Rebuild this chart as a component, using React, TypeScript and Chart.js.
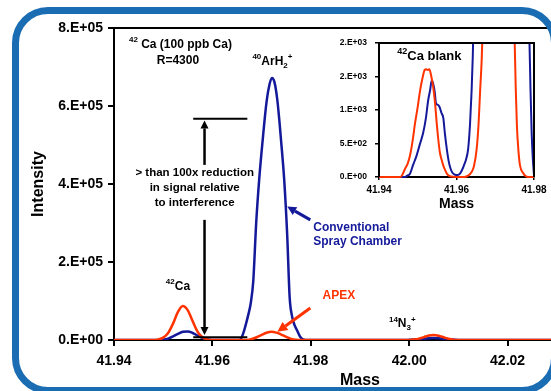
import React, { useEffect, useRef } from 'react';
import { Chart, registerables } from 'chart.js';

Chart.register(...registerables);

const FONT = '"Liberation Sans", Arial, Helvetica, sans-serif';
const RED = '#ff3300';
const BLUE = '#14199a';
const BORDER_BLUE = '#1b6db3';

// ---------- Main chart data: 42Ca (100 ppb Ca), R=4300 ----------
const apexMass = [
  41.94, 41.948, 41.949, 41.95, 41.951, 41.952, 41.953, 41.954, 41.955, 41.956, 41.957, 41.958, 41.959, 41.96,
  41.967, 41.968, 41.969, 41.97, 41.971, 41.972, 41.973, 41.974, 41.975, 41.976, 41.977, 41.978,
  42.0, 42.001, 42.002, 42.003, 42.004, 42.005, 42.006, 42.007, 42.008, 42.009, 42.01, 42.04,
];
const apexIntensity = [
  0, 0, 1500, 6000, 18000, 42000, 72000, 87000, 76000, 48000, 21000, 7000, 1500, 0,
  0, 2500, 7000, 13000, 18500, 21000, 19000, 14000, 8000, 3000, 500, 0,
  0, 1000, 3500, 7500, 11500, 13000, 11000, 7000, 3000, 800, 0, 0,
];

const conventionalMass = [
  41.94, 41.949, 41.95, 41.951, 41.952, 41.953, 41.954, 41.955, 41.956, 41.957, 41.958, 41.959, 41.96, 41.962,
  41.9655, 41.966, 41.9664, 41.9668, 41.9673, 41.9678, 41.9683, 41.9689, 41.9695, 41.9702, 41.971, 41.9716,
  41.9721, 41.9726, 41.9732, 41.974, 41.9746, 41.9752, 41.9757, 41.9762, 41.9767, 41.9772, 41.9778, 41.9784,
  41.979, 41.999, 42.002, 42.004, 42.005, 42.006, 42.008, 42.01, 42.04,
];
const conventionalIntensity = [
  0, 0, 1000, 3500, 9000, 16000, 21000, 22000, 18000, 11000, 5000, 1500, 300, 0,
  0, 8000, 22000, 40000, 65000, 95000, 150000, 300000, 410000, 510000, 610000, 655000,
  672000, 662000, 615000, 505000, 410000, 270000, 110000, 60000, 38000, 25000, 9000, 1500,
  0, 0, 2000, 4500, 5000, 4500, 2000, 0, 0,
];

const mainMassMin = 41.94;
const mainMassMax = 42.04;
const mainMassStep = 0.02;
const mainIntensityMax = 800000;
const mainIntensityStep = 200000;

// ---------- Inset data: 42Ca blank ----------
const blankApexMass = [
  41.94, 41.9455, 41.946, 41.9467, 41.9474, 41.948, 41.9487, 41.9493, 41.95, 41.9506, 41.9512, 41.9518,
  41.9522, 41.9526, 41.953, 41.9535, 41.954, 41.9545, 41.9549, 41.9553, 41.9557, 41.9562, 41.9566, 41.9571,
  41.9575, 41.9583, 41.96, 41.962, 41.963, 41.9639, 41.9645, 41.9652, 41.9657, 41.9661, 41.9665, 41.9668,
  41.9672, 41.9745, 41.9749, 41.9753, 41.9756, 41.976, 41.9764, 41.9772, 41.9778, 41.9785, 41.98,
];
const blankApexIntensity = [
  0, 0, 30, 120, 200, 320, 550, 805, 1050, 1290, 1470, 1600,
  1610, 1600, 1610, 1500, 1340, 1080, 800, 560, 370, 250, 170, 100,
  50, 10, 0, 0, 20, 75, 160, 415, 800, 1290, 1750, 2300,
  3000, 3000, 2300, 1300, 750, 380, 170, 60, 15, 0, 0,
];

const blankConvMass = [
  41.94, 41.9467, 41.9473, 41.948, 41.9488, 41.9497, 41.9505, 41.9514, 41.9521, 41.9527, 41.9532, 41.9536,
  41.954, 41.9544, 41.9547, 41.9551, 41.9556, 41.9561, 41.9566, 41.957, 41.9575, 41.958, 41.9585, 41.959,
  41.9596, 41.9603, 41.9609, 41.9614, 41.9619, 41.9625, 41.963, 41.9635, 41.9639, 41.9642, 41.9646,
  41.9784, 41.9788, 41.9791, 41.9794, 41.9797, 41.98,
];
const blankConvIntensity = [
  0, 0, 20, 50, 180, 320, 480, 660, 880, 1150, 1300, 1440,
  1390, 1260, 1100, 1080, 1050, 960, 880, 650, 415, 230, 120, 60,
  34, 30, 50, 100, 170, 270, 415, 800, 1290, 1800, 2800,
  2800, 2100, 1300, 650, 270, 30,
];

const insetMassMin = 41.94;
const insetMassMax = 41.98;
const insetMassStep = 0.02;
const insetIntensityMax = 2000;
const insetIntensityStep = 500;

// Excel-like "0.E+00" format
function fmtE(v: number): string {
  const [m, e] = Number(v).toExponential(0).split('e');
  const ei = parseInt(e, 10);
  return `${m}.E${ei < 0 ? '-' : '+'}${String(Math.abs(ei)).padStart(2, '0')}`;
}

type Part = [string, number]; // 0 normal, 1 superscript, 2 subscript

function richText(ctx: CanvasRenderingContext2D, parts: Part[], x: number, y: number, size: number, color: string, align: string) {
  ctx.save();
  ctx.fillStyle = color;
  ctx.textBaseline = 'middle';
  ctx.textAlign = 'left';
  const small = Math.round(size * 0.68);
  const fN = `bold ${size}px ${FONT}`;
  const fS = `bold ${small}px ${FONT}`;
  let w = 0;
  for (const [t, k] of parts) {
    ctx.font = k ? fS : fN;
    w += ctx.measureText(t).width;
  }
  let cx = align === 'center' ? x - w / 2 : align === 'right' ? x - w : x;
  for (const [t, k] of parts) {
    ctx.font = k ? fS : fN;
    const dy = k === 1 ? -size * 0.38 : k === 2 ? size * 0.32 : 0;
    ctx.fillText(t, cx, y + dy);
    cx += ctx.measureText(t).width;
  }
  ctx.restore();
}

function arrow(ctx: CanvasRenderingContext2D, x1: number, y1: number, x2: number, y2: number, color: string, lw: number, hl: number, hw: number) {
  const a = Math.atan2(y2 - y1, x2 - x1);
  const bx = x2 - hl * Math.cos(a);
  const by = y2 - hl * Math.sin(a);
  ctx.save();
  ctx.strokeStyle = color;
  ctx.fillStyle = color;
  ctx.lineWidth = lw;
  ctx.beginPath();
  ctx.moveTo(x1, y1);
  ctx.lineTo(bx, by);
  ctx.stroke();
  ctx.beginPath();
  ctx.moveTo(x2, y2);
  ctx.lineTo(bx + (hw / 2) * Math.sin(a), by - (hw / 2) * Math.cos(a));
  ctx.lineTo(bx - (hw / 2) * Math.sin(a), by + (hw / 2) * Math.cos(a));
  ctx.closePath();
  ctx.fill();
  ctx.restore();
}

function line(ctx: CanvasRenderingContext2D, x1: number, y1: number, x2: number, y2: number, color: string, lw: number) {
  ctx.save();
  ctx.strokeStyle = color;
  ctx.lineWidth = lw;
  ctx.beginPath();
  ctx.moveTo(x1, y1);
  ctx.lineTo(x2, y2);
  ctx.stroke();
  ctx.restore();
}

const mainAnnotations = {
  id: 'mainAnnotations',
  afterDatasetsDraw(chart: any) {
    const ctx: CanvasRenderingContext2D = chart.ctx;
    const X = (m: number) => chart.scales.x.getPixelForValue(m);
    const Y = (v: number) => chart.scales.y.getPixelForValue(v);
    const { left, right, top } = chart.chartArea;
    // top frame line
    line(ctx, left - 1, top, right, top, '#000', 2);

    // header text
    richText(ctx, [['42', 1], [' Ca (100 ppb Ca)', 0]], X(41.9535), Y(757000), 12, '#000', 'center');
    richText(ctx, [['R=4300', 0]], X(41.953), Y(716000), 12, '#000', 'center');
    richText(ctx, [['40', 1], ['ArH', 0], ['2', 2], ['+', 1]], X(41.9722), Y(714000), 12, '#000', 'center');
    richText(ctx, [['42', 1], ['Ca', 0]], X(41.953), Y(137000), 12, '#000', 'center');
    richText(ctx, [['14', 1], ['N', 0], ['3', 2], ['+', 1]], X(41.9986), Y(41000), 12, '#000', 'center');

    // reduction double-arrow
    const xa = X(41.9584);
    line(ctx, X(41.9561), Y(567000), X(41.9671), Y(567000), '#000', 2);
    line(ctx, X(41.9561), Y(6900), X(41.9671), Y(6900), '#000', 2);
    arrow(ctx, xa, Y(449000), xa, Y(563000), '#000', 2.5, 8, 8);
    arrow(ctx, xa, Y(308000), xa, Y(12800), '#000', 2.5, 8, 8);
    richText(ctx, [['> than 100x reduction', 0]], X(41.9564), Y(428000), 11.5, '#000', 'center');
    richText(ctx, [['in signal relative', 0]], X(41.9564), Y(389000), 11.5, '#000', 'center');
    richText(ctx, [['to interference', 0]], X(41.9564), Y(353000), 11.5, '#000', 'center');

    // conventional label & arrow
    arrow(ctx, X(41.9799), Y(308000), X(41.9752), Y(342000), BLUE, 3, 9, 9);
    richText(ctx, [['Conventional', 0]], X(41.9805), Y(287000), 12, BLUE, 'left');
    richText(ctx, [['Spray Chamber', 0]], X(41.9805), Y(252000), 12, BLUE, 'left');

    // APEX label & arrow
    arrow(ctx, X(41.9799), Y(82000), X(41.9732), Y(21000), RED, 3, 10, 10);
    richText(ctx, [['APEX', 0]], X(41.9857), Y(113000), 12, RED, 'center');
  },
};

const insetAnnotations = {
  id: 'insetAnnotations',
  afterDatasetsDraw(chart: any) {
    const ctx: CanvasRenderingContext2D = chart.ctx;
    const X = (m: number) => chart.scales.x.getPixelForValue(m);
    const Y = (v: number) => chart.scales.y.getPixelForValue(v);
    const { left, right, top, bottom } = chart.chartArea;
    ctx.save();
    ctx.strokeStyle = '#000';
    ctx.lineWidth = 2;
    ctx.beginPath();
    ctx.moveTo(left, bottom);
    ctx.lineTo(left, top);
    ctx.lineTo(right, top);
    ctx.lineTo(right, bottom);
    ctx.stroke();
    ctx.restore();
    richText(ctx, [['42', 1], ['Ca blank', 0]], X(41.953), Y(1796), 13, '#000', 'center');
  },
};

function toPoints(xs: number[], ys: number[]) {
  return xs.map((x, i) => ({ x, y: ys[i] }));
}

export default function App() {
  const mainRef = useRef<HTMLCanvasElement>(null);
  const insetRef = useRef<HTMLCanvasElement>(null);

  useEffect(() => {
    const tickFont = { family: FONT, size: 14, weight: 'bold' as const };
    const main = new Chart(mainRef.current!, {
      type: 'line',
      data: {
        datasets: [
          {
            label: 'APEX',
            data: toPoints(apexMass, apexIntensity),
            borderColor: RED,
            borderWidth: 2.5,
            pointRadius: 0,
            fill: false,
            cubicInterpolationMode: 'monotone',
          },
          {
            label: 'Conventional Spray Chamber',
            data: toPoints(conventionalMass, conventionalIntensity),
            borderColor: BLUE,
            borderWidth: 2.5,
            pointRadius: 0,
            fill: false,
            cubicInterpolationMode: 'monotone',
          },
        ],
      },
      options: {
        responsive: false,
        animation: false,
        events: [],
        layout: { padding: { top: 28, right: 25, left: 0, bottom: 0 } },
        plugins: { legend: { display: false }, tooltip: { enabled: false } },
        scales: {
          x: {
            type: 'linear',
            min: mainMassMin,
            max: mainMassMax,
            ticks: {
              stepSize: mainMassStep,
              callback: (v: any) => Number(v).toFixed(2),
              font: tickFont,
              color: '#000',
              padding: 7,
              maxRotation: 0,
              autoSkip: false,
            },
            grid: { display: true, drawOnChartArea: false, drawTicks: true, tickLength: 6, color: '#000', lineWidth: 2 },
            border: { display: true, color: '#000', width: 2 },
            title: {
              display: true,
              text: 'Mass',
              color: '#000',
              font: { family: FONT, size: 16, weight: 'bold' },
              padding: { top: 0, bottom: 1 },
            },
            afterFit: (s: any) => {
              s.height = 51;
            },
          },
          y: {
            type: 'linear',
            min: 0,
            max: mainIntensityMax,
            ticks: {
              stepSize: mainIntensityStep,
              callback: (v: any) => fmtE(Number(v)),
              font: tickFont,
              color: '#000',
              padding: 5,
            },
            grid: { display: true, drawOnChartArea: false, drawTicks: true, tickLength: 6, color: '#000', lineWidth: 2 },
            border: { display: true, color: '#000', width: 2 },
            title: {
              display: true,
              text: 'Intensity',
              color: '#000',
              font: { family: FONT, size: 16, weight: 'bold' },
              padding: { top: 29, bottom: 0 },
            },
            afterFit: (s: any) => {
              s.width = 114;
            },
          },
        },
      } as any,
      plugins: [mainAnnotations],
    });

    const inset = new Chart(insetRef.current!, {
      type: 'line',
      data: {
        datasets: [
          {
            label: 'APEX blank',
            data: toPoints(blankApexMass, blankApexIntensity),
            borderColor: RED,
            borderWidth: 2,
            pointRadius: 0,
            fill: false,
            cubicInterpolationMode: 'monotone',
            clip: { left: 1, top: 0, right: 1, bottom: 3 },
          },
          {
            label: 'Conventional blank',
            data: toPoints(blankConvMass, blankConvIntensity),
            borderColor: BLUE,
            borderWidth: 2,
            pointRadius: 0,
            fill: false,
            cubicInterpolationMode: 'monotone',
            clip: { left: 1, top: 0, right: 1, bottom: 3 },
          },
        ],
      },
      options: {
        responsive: false,
        animation: false,
        events: [],
        layout: { padding: { top: 9, right: 17, left: 0, bottom: 0 } },
        plugins: { legend: { display: false }, tooltip: { enabled: false } },
        scales: {
          x: {
            type: 'linear',
            min: insetMassMin,
            max: insetMassMax,
            ticks: {
              stepSize: insetMassStep,
              callback: (v: any) => Number(v).toFixed(2),
              font: { family: FONT, size: 10, weight: 'bold' },
              color: '#000',
              padding: 4,
              maxRotation: 0,
              autoSkip: false,
            },
            grid: { display: true, drawOnChartArea: false, drawTicks: true, tickLength: 3, color: '#000', lineWidth: 1.5 },
            border: { display: true, color: '#000', width: 2 },
            title: {
              display: true,
              text: 'Mass',
              color: '#000',
              font: { family: FONT, size: 14, weight: 'bold' },
              padding: { top: 0, bottom: 2.5 },
            },
            afterFit: (s: any) => {
              s.height = 38;
            },
          },
          y: {
            type: 'linear',
            min: 0,
            max: insetIntensityMax,
            ticks: {
              stepSize: insetIntensityStep,
              callback: (v: any) => fmtE(Number(v)),
              font: { family: FONT, size: 8.5, weight: 'bold' },
              color: '#000',
              padding: 8,
            },
            grid: { display: true, drawOnChartArea: false, drawTicks: true, tickLength: 4, color: '#000', lineWidth: 1.5 },
            border: { display: true, color: '#000', width: 2 },
            afterFit: (s: any) => {
              s.width = 54;
            },
          },
        },
      } as any,
      plugins: [insetAnnotations],
    });

    return () => {
      main.destroy();
      inset.destroy();
    };
  }, []);

  return (
    <div
      style={{
        position: 'fixed',
        left: 0,
        top: 0,
        width: 551,
        height: 391,
        overflow: 'hidden',
        background: '#fff',
      }}
    >
      <canvas
        ref={mainRef}
        width={631}
        height={391}
        style={{ position: 'absolute', left: 0, top: 0, width: 631, height: 391 }}
      />
      <canvas
        ref={insetRef}
        width={226}
        height={185}
        style={{ position: 'absolute', left: 325, top: 30, width: 226, height: 185 }}
      />
      <div
        style={{
          position: 'absolute',
          left: 12,
          top: 7,
          width: 546,
          height: 387,
          boxSizing: 'border-box',
          border: `7px solid ${BORDER_BLUE}`,
          borderRadius: 36,
          pointerEvents: 'none',
        }}
      />
    </div>
  );
}
